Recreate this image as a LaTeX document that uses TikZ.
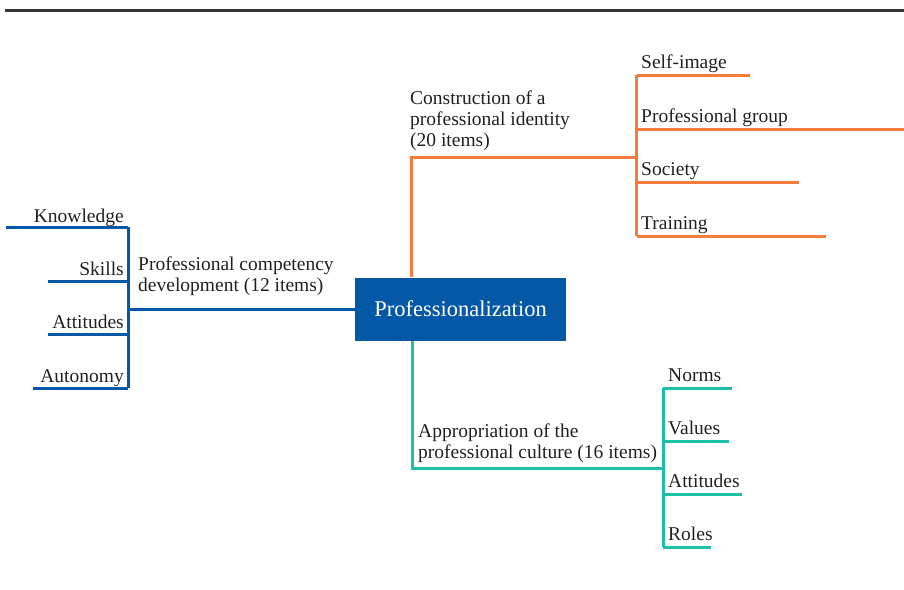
\documentclass[tikz,border=0pt]{standalone}
\usepackage{fontspec}
\setmainfont{Liberation Serif}
\definecolor{cblue}{HTML}{0558A6}
\definecolor{corange}{HTML}{F47B3C}
\definecolor{cteal}{HTML}{1EBFA8}
\definecolor{ctext}{HTML}{231F20}
\begin{document}
\begin{tikzpicture}[x=1pt,y=-1pt,
  lbl/.style={inner sep=0pt,font=\fontsize{19.5}{21}\selectfont,text=ctext},
  bline/.style={draw=cblue,line width=3pt},
  oline/.style={draw=corange,line width=3pt},
  tline/.style={draw=cteal,line width=3pt}]
\useasboundingbox (0,0) rectangle (904,589);
\draw[line width=3pt,draw=ctext!90] (5,10) -- (904,10);
% root
\node[fill=cblue,text=white,minimum width=211pt,minimum height=63pt,inner sep=0pt,
  font=\fontsize{22.5}{24}\selectfont] (root) at (460.5,309) {Professionalization};
% ---------- blue branch
\coordinate (bj) at (128,309);
\coordinate (bk) at (128,227);
\coordinate (bs) at (128,281);
\coordinate (ba) at (128,334);
\coordinate (bu) at (128,388);
\coordinate (bke) at (6,227);
\coordinate (bse) at (48,281);
\coordinate (bae) at (48,334);
\coordinate (bue) at (33,388);
\draw[bline] (root.west) -- (bj);
\draw[bline] (bk) -- (bu);
\draw[bline] (bk) -- (bke);
\draw[bline] (bs) -- (bse);
\draw[bline] (ba) -- (bae);
\draw[bline] (bu) -- (bue);
\node[lbl,anchor=base east] (kn) at (124,222) {Knowledge};
\node[lbl,anchor=base east] (sk) at (124,275) {Skills};
\node[lbl,anchor=base east] (at) at (124,328) {Attitudes};
\node[lbl,anchor=base east] (au) at (124,382) {Autonomy};
\node[lbl,anchor=base west,align=left] (pcd) at (138,291) {Professional competency\\development (12 items)};
% ---------- orange branch
\coordinate (ot) at (411.5,157);
\coordinate (oj) at (636.5,157);
\coordinate (o1) at (636.5,75);
\coordinate (o2) at (636.5,129);
\coordinate (o3) at (636.5,182);
\coordinate (o4) at (636.5,236);
\coordinate (o1e) at (750,75);
\coordinate (o2e) at (904,129);
\coordinate (o3e) at (799,182);
\coordinate (o4e) at (826,236);
\draw[oline] (root.north -| ot) -- (ot) -- (oj);
\draw[oline] (o1) -- (o4);
\draw[oline] (o1) -- (o1e);
\draw[oline] (o2) -- (o2e);
\draw[oline] (o3) -- (o3e);
\draw[oline] (o4) -- (o4e);
\node[lbl,anchor=base west] (si) at (641,68) {Self-image};
\node[lbl,anchor=base west] (pg) at (641,122) {Professional group};
\node[lbl,anchor=base west] (so) at (641,175) {Society};
\node[lbl,anchor=base west] (tr) at (641,229) {Training};
\node[lbl,anchor=base west,align=left] (cpi) at (410,146) {Construction of a\\professional identity\\(20 items)};
% ---------- teal branch
\coordinate (tt) at (412,468);
\coordinate (tj) at (663,468);
\coordinate (t1) at (663,388);
\coordinate (t2) at (663,441);
\coordinate (t3) at (663,494);
\coordinate (t4) at (663,547);
\coordinate (t1e) at (732,388);
\coordinate (t2e) at (729,441);
\coordinate (t3e) at (742,494);
\coordinate (t4e) at (711,547);
\draw[tline] (root.south -| tt) -- (tt) -- (tj);
\draw[tline] (t1) -- (t4);
\draw[tline] (t1) -- (t1e);
\draw[tline] (t2) -- (t2e);
\draw[tline] (t3) -- (t3e);
\draw[tline] (t4) -- (t4e);
\node[lbl,anchor=base west] (no) at (668,381) {Norms};
\node[lbl,anchor=base west] (va) at (668,434) {Values};
\node[lbl,anchor=base west] (at2) at (668,487) {Attitudes};
\node[lbl,anchor=base west] (ro) at (668,540) {Roles};
\node[lbl,anchor=base west,align=left] (apc) at (418,458) {Appropriation of the\\professional culture (16 items)};
\end{tikzpicture}
\end{document}
